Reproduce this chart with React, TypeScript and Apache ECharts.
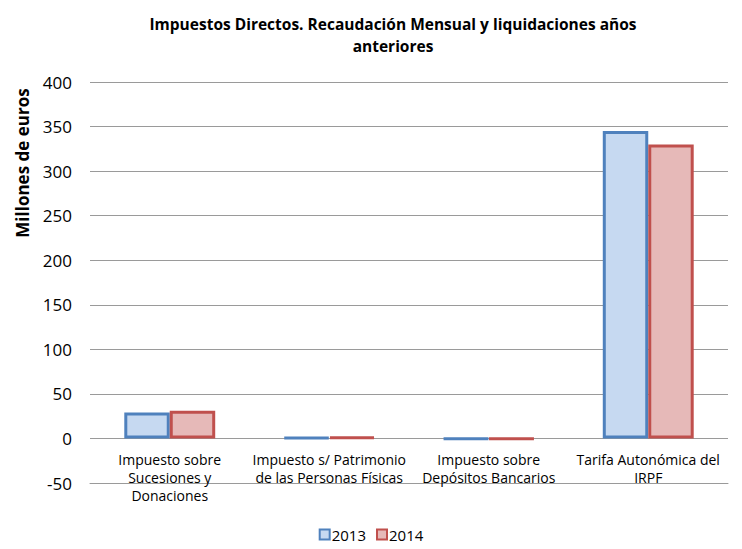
import React, { useEffect, useRef } from "react";
import * as echarts from "echarts";

const categories = [
  "Impuesto sobre\nSucesiones y\nDonaciones",
  "Impuesto s/ Patrimonio\nde las Personas Físicas",
  "Impuesto sobre\nDepósitos Bancarios",
  "Tarifa Autonómica del\nIRPF",
];
const values2013 = [29, 1, -0.6, 345];
const values2014 = [31, 1.5, -0.6, 330];
const seriesNames = ["2013", "2014"];

const FONT = "'Open Sans', 'Noto Sans', sans-serif";

export default function App() {
  const ref = useRef<HTMLDivElement>(null);
  useEffect(() => {
    if (!ref.current) return;
    const chart = echarts.init(ref.current, undefined, { renderer: "svg" });
    chart.setOption({
      animation: false,
      backgroundColor: "#fff",
      title: {
        text: "Impuestos Directos. Recaudación Mensual y liquidaciones años\nanteriores",
        left: 388,
        textAlign: "center",
        top: 8,
        textStyle: {
          fontFamily: FONT,
          fontSize: 15.5,
          fontWeight: "bold",
          color: "#000",
          lineHeight: 22,
        },
      },
      graphic: [
        {
          type: "text",
          x: 22,
          y: 163,
          rotation: Math.PI / 2,
          style: {
            text: "Millones de euros",
            font: `bold 17px ${FONT}`,
            fill: "#000",
            textAlign: "center",
            textVerticalAlign: "middle",
          },
        },
      ],
      legend: {
        bottom: 2,
        left: "center",
        itemWidth: 10,
        itemHeight: 10,
        itemGap: 10,
        icon: "rect",
        textStyle: { fontFamily: FONT, fontSize: 15, color: "#000", padding: [0, 0, 0, -3] },
        data: seriesNames,
      },
      grid: { left: 90, right: 14, top: 82, bottom: 66 },
      xAxis: {
        type: "category",
        data: categories,
        axisLine: { onZero: false, lineStyle: { color: "#9a9a9a", width: 1 } },
        axisTick: { show: false },
        axisLabel: {
          fontFamily: FONT,
          fontSize: 14,
          color: "#000",
          lineHeight: 18,
          margin: -33,
          interval: 0,
        },
      },
      yAxis: {
        type: "value",
        min: -50,
        max: 400,
        interval: 50,
        axisLine: { show: false },
        axisTick: { show: false },
        splitLine: { lineStyle: { color: "#9a9a9a", width: 1 } },
        axisLabel: { fontFamily: FONT, fontSize: 17, color: "#000", margin: 18 },
      },
      series: [
        {
          name: seriesNames[0],
          type: "bar",
          data: values2013,
          barGap: "0%",
          barCategoryGap: "43%",
          itemStyle: { color: "#C6D9F1", borderColor: "#4F81BD", borderWidth: 3 },
        },
        {
          name: seriesNames[1],
          type: "bar",
          data: values2014,
          itemStyle: { color: "#E6B9B8", borderColor: "#C0504D", borderWidth: 3 },
        },
      ],
    });
    return () => chart.dispose();
  }, []);
  return (
    <div
      ref={ref}
      style={{ position: "fixed", left: 0, top: 0, width: 742, height: 549 }}
    />
  );
}
